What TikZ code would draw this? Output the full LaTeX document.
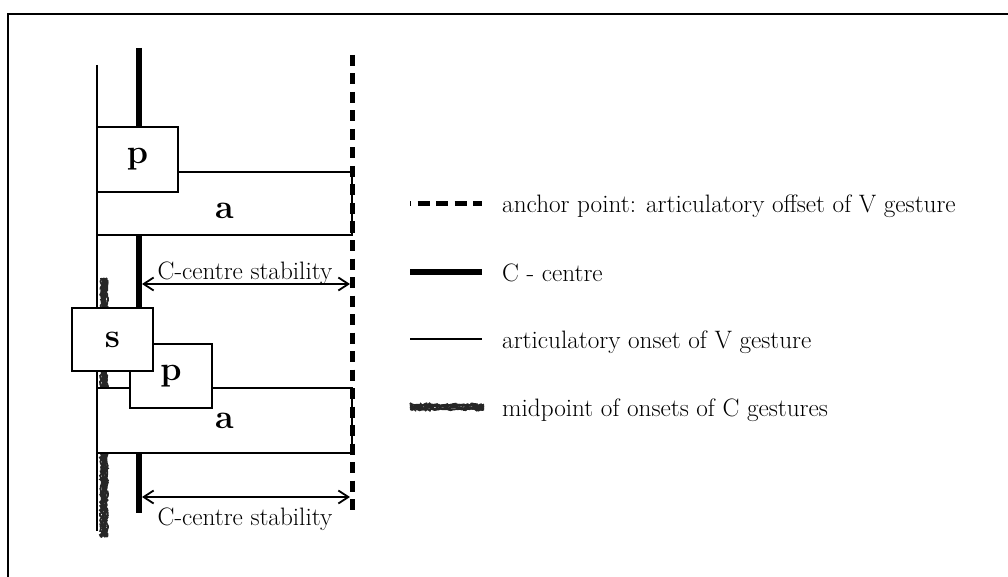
\documentclass[tikz,border=0pt]{standalone}
\usetikzlibrary{arrows.meta,decorations.pathmorphing}
\begin{document}
\pgfmathsetseed{7}
\begin{tikzpicture}[x=1pt,y=-1pt,
  box/.style={draw, line width=1.8pt, fill=white, rectangle, inner sep=0pt,
    outer sep=0pt},
  letter/.style={font=\fontsize{34}{40}\selectfont\bfseries, inner sep=0pt},
  txt/.style={font=\fontsize{25.2}{30}\selectfont, inner sep=0pt},
  onsetline/.style={line width=1.8pt},
  centreline/.style={line width=6pt},
  anchorline/.style={line width=5pt, dash pattern=on 11pt off 7.5pt},
  midstroke/.style={draw=black!85, decorate,
    decoration={random steps, segment length=1.6pt, amplitude=1.1pt}},
  dimarrow/.style={line width=1.8pt,
    {Straight Barb[length=10pt,width=13pt]}-{Straight Barb[length=10pt,width=13pt]}}
]
\useasboundingbox (0,0) rectangle (1008,577);

% open frame (top and left edges)
\draw[line width=2.2pt] (1008,14) -- (8,14) -- (8,577);

% midpoint of onsets of C gestures (mottled stroke)
\foreach \dx/\w in {-3/1.8, -1.5/2.4, 0/2.4, 1.5/2.4, 3/1.8}
  \draw[midstroke, line width=\w pt] (104+\dx,278) -- (104+\dx,537);

% articulatory onset of V gesture
\coordinate (onT) at (97,65);
\coordinate (onB) at (97,531);
\draw[onsetline] (onT) -- (onB);

% C-centre
\coordinate (ccT) at (139,48);
\coordinate (ccB) at (139,513);
\draw[centreline] (ccT) -- (ccB);

% upper syllable: p + a
\node[box, anchor=north west, minimum width=255pt, minimum height=63pt] (a1) at (97,172) {};
\node[letter] (a1l) at (224.5,210.5) {a};
\node[box, anchor=north west, minimum width=81pt, minimum height=65pt] (p1) at (97,127)
  {\fontsize{34}{40}\selectfont\bfseries p};

% lower syllable: s + p + a
\node[box, anchor=north west, minimum width=255pt, minimum height=65pt] (a2) at (97,388)
  {\fontsize{34}{40}\selectfont\bfseries a};
\node[box, anchor=north west, minimum width=82pt, minimum height=64pt] (p2) at (130,344)
  {\fontsize{34}{40}\selectfont\bfseries p};
\node[box, anchor=north west, minimum width=81pt, minimum height=63pt] (s) at (72,308)
  {\fontsize{34}{40}\selectfont\bfseries s};

% anchor point: articulatory offset of V gesture
\coordinate (anT) at (352,55);
\coordinate (anB) at (352,513);
\draw[anchorline] (anT) -- (anB);

% C-centre stability intervals
\coordinate (s1l) at (142,284);
\coordinate (s1r) at (350,284);
\draw[dimarrow] (s1l) -- (s1r);
\node[txt, anchor=base] (s1t) at (245,279) {C-centre stability};

\coordinate (s2l) at (142,497);
\coordinate (s2r) at (350,497);
\draw[dimarrow] (s2l) -- (s2r);
\node[txt, anchor=base] (s2t) at (245,525) {C-centre stability};

% legend
\draw[line width=5pt, dash pattern=on 12pt off 6.5pt, dash phase=11pt] (410,204) -- (482,204);
\node[txt, anchor=base west] (k1) at (502,213) {anchor point: articulatory offset of V gesture};

\draw[centreline] (410,272) -- (482,272);
\node[txt, anchor=base west] (k2) at (502,281) {C - centre};

\draw[onsetline] (410,339) -- (482,339);
\node[txt, anchor=base west] (k3) at (502,348) {articulatory onset of V gesture};

\foreach \dy/\w in {-2.5/1.8, -1/2.4, 1/2.4, 2.5/1.8}
  \draw[midstroke, line width=\w pt] (410,407+\dy) -- (484,407+\dy);
\node[txt, anchor=base west] (k4) at (502,416) {midpoint of onsets of C gestures};
\end{tikzpicture}
\end{document}
